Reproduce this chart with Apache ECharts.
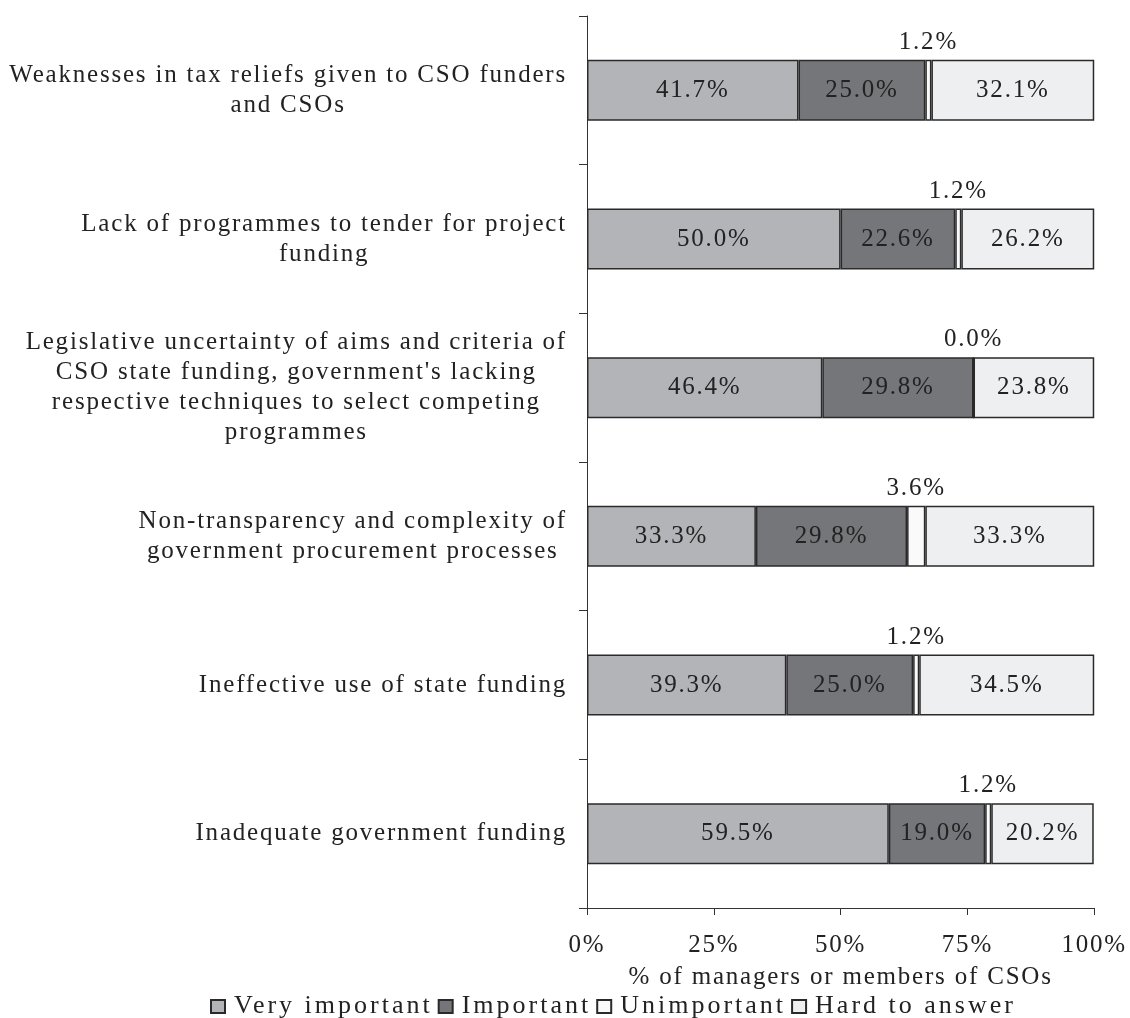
<!DOCTYPE html>
<html>
<head>
<meta charset="utf-8">
<title>Problems of CSO state funding</title>
<style>
  html, body { margin: 0; padding: 0; background: #ffffff; }
  #chart { width: 1130px; height: 1018px; }
</style>
<script>
  // Tracked serif text: letter spacing picked by font size, applied to every
  // canvas text draw and measurement so layout stays consistent.
  (function () {
    var proto = window.CanvasRenderingContext2D && CanvasRenderingContext2D.prototype;
    if (!proto || !('letterSpacing' in proto)) return;
    var tracking = { '26px': '3px' };
    var fontDesc = Object.getOwnPropertyDescriptor(proto, 'font');
    Object.defineProperty(proto, 'font', {
      configurable: true,
      get: function () { return fontDesc.get.call(this); },
      set: function (v) {
        fontDesc.set.call(this, v);
        var m = /(\d+(?:\.\d+)?px)/.exec(String(v));
        this.letterSpacing = (m && tracking[m[1]]) || '1.8px';
      }
    });
  })();
</script>
<script src="https://cdn.jsdelivr.net/npm/echarts@6/dist/echarts.min.js"></script>
</head>
<body>
<div id="chart"></div>
<script>
// Problems, listed top to bottom
const categories = [
  "Weaknesses in tax reliefs given to CSO funders\nand CSOs",
  "Lack of programmes to tender for project\nfunding",
  "Legislative uncertainty of aims and criteria of\nCSO state funding, government's lacking\nrespective techniques to select competing\nprogrammes",
  "Non-transparency and complexity of\ngovernment procurement processes",
  "Ineffective use of state funding",
  "Inadequate government funding"
];

// Shares of respondents, %
const veryImportant = [41.7, 50.0, 46.4, 33.3, 39.3, 59.5];
const important     = [25.0, 22.6, 29.8, 29.8, 25.0, 19.0];
const unimportant   = [1.2, 1.2, 0.0, 3.6, 1.2, 1.2];
const hardToAnswer  = [32.1, 26.2, 23.8, 33.3, 34.5, 20.2];

const seriesNames = ["Very important", "Important", "Unimportant", "Hard to answer"];
const xTicks = [0, 25, 50, 75, 100];

const FONT = "'Liberation Serif', 'Times New Roman', serif";
const TEXT = '#222222';
const BORDER = '#2a2a2a';

const pct = v => Number(v).toFixed(1) + '%';

function barSeries(name, data, color, labelPos) {
  return {
    name: name,
    type: 'bar',
    stack: 'total',
    data: data,
    barWidth: 61,
    itemStyle: { color: color, borderColor: BORDER, borderWidth: 1.5 },
    label: {
      show: true,
      position: labelPos,
      distance: 4,
      formatter: p => pct(p.value),
      fontFamily: FONT,
      fontSize: 25,
      color: TEXT
    },
    emphasis: { disabled: true }
  };
}

const chart = echarts.init(document.getElementById('chart'), null, { renderer: 'canvas' });

chart.setOption({
  animation: false,
  backgroundColor: '#ffffff',
  textStyle: { fontFamily: FONT },
  grid: { left: 587, right: 31, top: 16, bottom: 110, containLabel: false },
  legend: {
    data: seriesNames,
    left: 205,
    top: 987,
    icon: 'rect',
    itemWidth: 14,
    itemHeight: 13,
    itemGap: 5,
    textStyle: { fontFamily: FONT, fontSize: 26, color: TEXT, padding: [0, 0, 0, 4] },
    selectedMode: false
  },
  xAxis: {
    type: 'value',
    min: xTicks[0],
    max: xTicks[xTicks.length - 1],
    interval: xTicks[1] - xTicks[0],
    name: '% of managers or members of CSOs',
    nameLocation: 'middle',
    nameGap: 56,
    nameTextStyle: { fontFamily: FONT, fontSize: 25, color: TEXT },
    axisLine: { show: true, lineStyle: { color: '#333', width: 1 } },
    axisTick: { show: true, length: 7, lineStyle: { color: '#333', width: 1 } },
    axisLabel: {
      margin: 24,
      formatter: '{value}%',
      fontFamily: FONT,
      fontSize: 25,
      color: TEXT
    },
    splitLine: { show: false }
  },
  yAxis: {
    type: 'category',
    data: categories,
    inverse: true,
    axisLine: { show: true, lineStyle: { color: '#333', width: 1 } },
    axisTick: { show: true, length: 8, lineStyle: { color: '#333', width: 1 } },
    axisLabel: {
      margin: 20,
      align: 'right',
      formatter: v => v.split('\n').map(l => '{c|' + l + '}').join('\n'),
      rich: {
        c: { align: 'center', fontFamily: FONT, fontSize: 25, lineHeight: 30, color: TEXT }
      }
    },
    splitLine: { show: false }
  },
  series: [
    barSeries(seriesNames[0], veryImportant, '#b3b4b8', 'inside'),
    barSeries(seriesNames[1], important, '#75767a', 'inside'),
    barSeries(seriesNames[2], unimportant, '#fafafa', 'top'),
    barSeries(seriesNames[3], hardToAnswer, '#eeeff1', 'inside')
  ]
});
</script>
</body>
</html>
